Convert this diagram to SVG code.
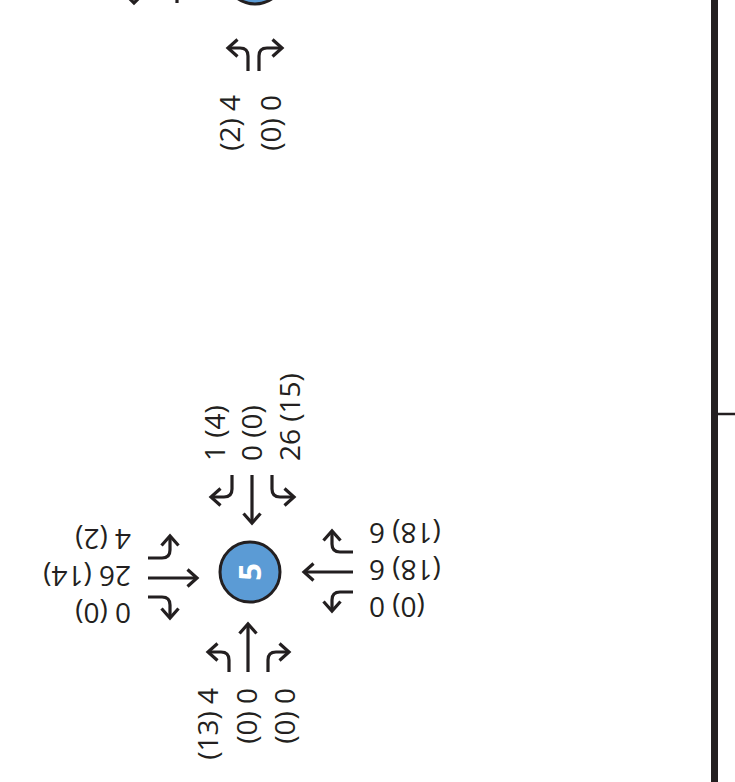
<svg xmlns="http://www.w3.org/2000/svg" width="735" height="782" viewBox="0 0 735 782">
  <style>
    .mv{fill:none;stroke:#231f20;stroke-width:3.2;marker-end:url(#head)}
    .frag{fill:none;stroke:#231f20;stroke-width:3.2}
    .lbl{font-family:"Open Sans","Liberation Sans",sans-serif;font-size:28px;fill:#231f20}
    .end{text-anchor:end}
    .num{font-family:"Open Sans","Liberation Sans",sans-serif;font-size:31px;font-weight:bold;fill:#ffffff;text-anchor:middle}
    .node{fill:#5b9bd5;stroke:#231f20;stroke-width:3}
  </style>
  <defs>
    <marker id="head" markerUnits="userSpaceOnUse" viewBox="-12 -12 24 24" markerWidth="24" markerHeight="24" refX="0" refY="0" orient="auto">
      <path d="M-9.5,-8.5 L0,0 L-9.5,8.5" fill="none" stroke="#231f20" stroke-width="3.2"/>
    </marker>
  </defs>

  <rect width="735" height="782" fill="#ffffff"/>

  <!-- road edge -->
  <g id="road">
    <rect x="711" y="0" width="7" height="782" fill="#231f20"/>
    <line x1="718" y1="414" x2="735" y2="414" stroke="#231f20" stroke-width="2.5"/>
  </g>

  <!-- intersection cut off at the top edge -->
  <g id="node-upper">
    <circle class="node" cx="255" cy="-26" r="30"/>
    <text class="lbl end" transform="translate(240,95) rotate(-90)">(2) 4</text>
    <text class="lbl end" transform="translate(281,95) rotate(-90)">(0) 0</text>
  </g>

  <!-- intersection 5 -->
  <g id="node-5">
    <circle class="node" cx="250" cy="572" r="30"/>
    <text class="num" transform="translate(250,572) rotate(-90)" dy="0.36em">5</text>
    <!-- north leg -->
    <text class="lbl" transform="translate(225,461) rotate(-90)">1 (4)</text>
    <text class="lbl" transform="translate(262,461) rotate(-90)">0 (0)</text>
    <text class="lbl" transform="translate(300,461) rotate(-90)">26 (15)</text>
    <!-- south leg -->
    <text class="lbl end" transform="translate(218,688) rotate(-90)">(13) 4</text>
    <text class="lbl end" transform="translate(257,688) rotate(-90)">(0) 0</text>
    <text class="lbl end" transform="translate(295,688) rotate(-90)">(0) 0</text>
    <!-- west leg -->
    <text class="lbl" transform="translate(131,529) rotate(180)">4 (2)</text>
    <text class="lbl" transform="translate(131,566) rotate(180)">26 (14)</text>
    <text class="lbl" transform="translate(131,603) rotate(180)">0 (0)</text>
    <!-- east leg -->
    <text class="lbl end" transform="translate(369,523) rotate(180)">(18) 6</text>
    <text class="lbl end" transform="translate(369,560) rotate(180)">(18) 6</text>
    <text class="lbl end" transform="translate(369,597) rotate(180)">(0) 0</text>
  </g>

  <!-- turning movement arrows -->
  <g id="movements">
    <!-- upper intersection, south leg -->
    <path class="mv" d="M248,71 V56 Q248,48 240,48 H228"/>
    <path class="mv" d="M259,71 V56 Q259,48 267,48 H282"/>
    <path class="frag" d="M126,-5 L134,3 L142,-5"/>
    <path class="frag" d="M177,-4 V3"/>
    <!-- node 5, north leg -->
    <path class="mv" d="M232,475 V489 Q232,497 224,497 H211"/>
    <path class="mv" d="M252,475 V523"/>
    <path class="mv" d="M272,475 V489 Q272,497 280,497 H294"/>
    <!-- node 5, south leg -->
    <path class="mv" d="M229,672 V660 Q229,652 221,652 H208"/>
    <path class="mv" d="M248,672 V624"/>
    <path class="mv" d="M268,672 V660 Q268,652 276,652 H289"/>
    <!-- node 5, west leg -->
    <path class="mv" d="M148,558 H162 Q170,558 170,550 V536"/>
    <path class="mv" d="M148,578 H197"/>
    <path class="mv" d="M148,597 H162 Q170,597 170,605 V618"/>
    <!-- node 5, east leg -->
    <path class="mv" d="M353,552 H340 Q332,552 332,544 V531"/>
    <path class="mv" d="M353,572 H304"/>
    <path class="mv" d="M353,592 H340 Q332,592 332,600 V611"/>
  </g>
</svg>
